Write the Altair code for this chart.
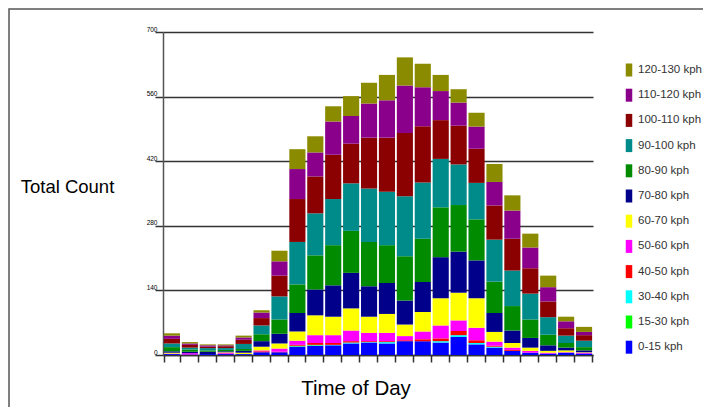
import altair as alt
import pandas as pd

hours = [str(h) for h in range(24)]

classes = ["0-15 kph", "15-30 kph", "30-40 kph", "40-50 kph", "50-60 kph", "60-70 kph",
           "70-80 kph", "80-90 kph", "90-100 kph", "100-110 kph", "110-120 kph", "120-130 kph"]
colors = ["#0000FF", "#00FF00", "#00FFFF", "#FF0000", "#FF00FF", "#FFFF00",
          "#00008B", "#008B00", "#008B8B", "#8B0000", "#8B008B", "#8B8B00"]

kph_0_15 = [2, 1, 2, 2, 2, 6, 6, 18, 20, 21, 25, 27, 25, 30, 30, 27, 39, 23, 16, 9, 5, 3, 5, 3]
kph_15_30 = [0, 0, 0, 0, 0, 0, 0, 1, 1, 0, 0, 0, 0, 0, 0, 0, 0, 0, 0, 0, 0, 0, 0, 0]
kph_30_40 = [0, 0, 0, 0, 0, 0, 0, 1, 1, 1, 2, 1, 3, 0, 0, 3, 4, 3, 2, 0, 0, 0, 0, 0]
kph_40_50 = [0, 0, 0, 1, 0, 2, 1, 2, 4, 4, 3, 2, 2, 2, 4, 6, 9, 6, 2, 2, 0, 0, 0, 0]
kph_50_60 = [1, 3, 0, 2, 0, 2, 7, 9, 17, 17, 23, 18, 18, 9, 17, 28, 23, 27, 9, 5, 4, 2, 1, 2]
kph_60_70 = [2, 0, 0, 1, 3, 8, 11, 20, 43, 40, 48, 35, 41, 25, 42, 59, 60, 64, 21, 10, 7, 4, 4, 1]
kph_70_80 = [3, 3, 5, 2, 4, 12, 21, 40, 56, 68, 77, 66, 67, 52, 65, 89, 89, 82, 41, 27, 21, 12, 6, 4]
kph_80_90 = [9, 5, 3, 3, 4, 15, 31, 62, 74, 87, 91, 96, 82, 96, 94, 108, 101, 89, 68, 53, 40, 23, 10, 7]
kph_90_100 = [8, 4, 5, 4, 11, 19, 50, 92, 91, 100, 103, 116, 116, 130, 122, 105, 88, 79, 91, 77, 56, 38, 16, 14]
kph_100_110 = [10, 6, 3, 4, 9, 16, 45, 93, 80, 96, 86, 110, 117, 137, 122, 84, 84, 74, 74, 69, 55, 34, 16, 12]
kph_110_120 = [7, 3, 3, 2, 5, 12, 31, 65, 52, 72, 60, 74, 81, 103, 84, 63, 50, 48, 51, 61, 45, 31, 15, 7]
kph_120_130 = [5, 3, 2, 2, 4, 5, 23, 43, 35, 33, 43, 45, 55, 61, 51, 35, 29, 30, 39, 33, 30, 25, 10, 11]

series = [kph_0_15, kph_15_30, kph_30_40, kph_40_50, kph_50_60, kph_60_70,
          kph_70_80, kph_80_90, kph_90_100, kph_100_110, kph_110_120, kph_120_130]

y_ticks = [0, 140, 280, 420, 560, 700]

rows = []
for ci, (name, vals) in enumerate(zip(classes, series)):
    for h, v in zip(hours, vals):
        rows.append({"hour": h, "speed": name, "count": v, "idx": ci})
df = pd.DataFrame(rows)

FONT = "Liberation Sans"

bars = alt.Chart(df).mark_bar().encode(
    x=alt.X("hour:O", sort=hours, scale=alt.Scale(paddingInner=0.1, paddingOuter=0.05),
            axis=alt.Axis(labels=False, tickBand="extent", tickSize=7, tickColor="#333333",
                          tickWidth=1.5, domainColor="#333333", domainWidth=1.5,
                          title="Time of Day", titleX=192.5, titleY=33.5,
                          titleAlign="center", titleBaseline="middle",
                          titleFont=FONT, titleFontSize=20.5, titleFontWeight="normal",
                          titleColor="#000000")),
    y=alt.Y("count:Q", stack="zero",
            scale=alt.Scale(domain=[0, 700], nice=False),
            axis=alt.Axis(values=y_ticks, grid=True, gridColor="#333333", gridWidth=1.5,
                          tickSize=8, tickColor="#333333", tickWidth=1.5,
                          domainColor="#555555", domainWidth=1.5,
                          labelFont=FONT, labelFontSize=6.5, labelColor="#000000",
                          labelBaseline="bottom", labelPadding=-2,
                          title="Total Count", titleAngle=0, titleX=-96, titleY=154.5,
                          titleAlign="center", titleBaseline="middle",
                          titleFont=FONT, titleFontSize=18.5, titleFontWeight="normal",
                          titleColor="#000000")),
    color=alt.Color("speed:N",
                    scale=alt.Scale(domain=classes[::-1], range=colors[::-1]),
                    legend=alt.Legend(title=None, orient="none", legendX=459.5, legendY=31.5,
                                      padding=0, rowPadding=12.2,
                                      symbolType="M-0.5,-1H0.5V1H-0.5Z", symbolSize=169,
                                      symbolStrokeWidth=0, labelOffset=2.5,
                                      labelFont=FONT, labelFontSize=11.5,
                                      labelColor="#333333")),
    order=alt.Order("idx:Q", sort="ascending"),
)

panel = alt.Chart(alt.Data(values=[{"a": 1}])).mark_rect(
    filled=False, stroke="#555555", strokeWidth=1.5
).encode(
    x=alt.value(-154), x2=alt.value(700), y=alt.value(-23), y2=alt.value(600)
)

chart = alt.layer(panel, bars).properties(
    width=430, height=323,
    autosize=alt.AutoSizeParams(type="none"),
    padding={"left": 155, "top": 24, "right": 110, "bottom": 52},
    background="#ffffff",
).configure_view(stroke=None)

chart.save("out.html", embed_options={"renderer": "svg", "actions": False})
